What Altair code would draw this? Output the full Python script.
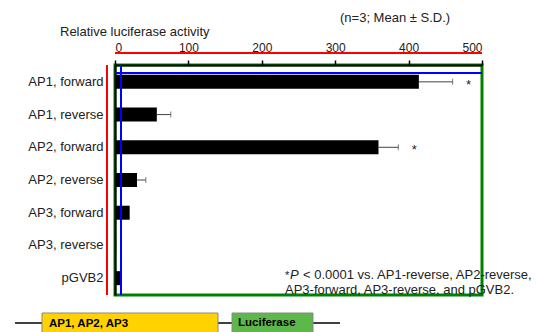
import altair as alt
import pandas as pd

categories = ["AP1, forward", "AP1, reverse", "AP2, forward", "AP2, reverse",
              "AP3, forward", "AP3, reverse", "pGVB2"]
means = [414, 57, 359, 30, 20, 1.5, 8]
sds = [46, 19, 27, 12, 0, 0, 0]
stars = ["*", "", "*", "", "", "", ""]
x_ticks = [0, 100, 200, 300, 400, 500]

df = pd.DataFrame({"cat": categories, "mean": means, "sd": sds, "star": stars})
df["upper"] = df["mean"] + df["sd"]
err = df[df["sd"] > 0]
sig = df[df["star"] != ""]

FONT = "Liberation Sans"
W, H = 367, 230

y_scale = alt.Scale(paddingInner=0.57, paddingOuter=0.3)
y_enc = alt.Y("cat:N", sort=categories, title=None, scale=y_scale)
x_scale = alt.Scale(domain=[0, 500], nice=False)

bars = alt.Chart(df).mark_bar(color="black", size=14).encode(
    x=alt.X("mean:Q", scale=x_scale, title=None,
            axis=alt.Axis(orient="top", values=x_ticks)),
    y=y_enc,
)

rules = alt.Chart(err).mark_rule(color="#444", strokeWidth=1).encode(
    x=alt.X("mean:Q", scale=x_scale, title=None), x2="upper:Q", y=y_enc)
caps = alt.Chart(err).mark_tick(color="#444", thickness=1, size=6, orient="vertical").encode(
    x=alt.X("upper:Q", scale=x_scale, title=None), y=y_enc)
star_text = alt.Chart(sig).mark_text(font=FONT, fontSize=13, dx=16, dy=3, color="#222").encode(
    x=alt.X("upper:Q", scale=x_scale, title=None), y=y_enc, text="star:N")


def label(txt, x, y, size=13, style="normal", weight="normal", color="#222", align="left"):
    return alt.Chart(pd.DataFrame({"t": [txt]})).mark_text(
        font=FONT, fontSize=size, fontStyle=style, fontWeight=weight,
        color=color, align=align, baseline="middle").encode(
        x=alt.value(x), y=alt.value(y), text="t:N")


def rect(x1, x2, y1, y2, fill, stroke="#888"):
    return alt.Chart(pd.DataFrame({"a": [0]})).mark_rect(
        fill=fill, stroke=stroke, strokeWidth=1).encode(
        x=alt.value(x1), x2=alt.value(x2), y=alt.value(y1), y2=alt.value(y2))


def line(x1, x2, y1, y2, w=1.5, color="black"):
    return alt.Chart(pd.DataFrame({"a": [0]})).mark_rule(color=color, strokeWidth=w).encode(
        x=alt.value(x1), x2=alt.value(x2), y=alt.value(y1), y2=alt.value(y2))


ox, oy = 115, 65
annot = [
    # diagnostic lines
    line(-8, -8, 0, H, 2, "red"),
    line(6, 6, 0, H, 2, "blue"),
    line(0, W, -12, -12, 2, "red"),
    line(0, W, 8, 8, 2, "blue"),
    label("Relative luciferase activity", 60 - ox, 32 - oy),
    label("(n=3; Mean \u00b1 S.D.)", 340 - ox, 18 - oy),
    label("*", 285 - ox, 276 - oy, size=11),
    label("P", 290 - ox, 275 - oy, style="italic"),
    label("< 0.0001 vs. AP1-reverse, AP2-reverse,", 303 - ox, 275 - oy),
    label("AP3-forward, AP3-reverse, and pGVB2.", 285 - ox, 290 - oy),
    line(15 - ox, 340 - ox, 323 - oy, 323 - oy),
    rect(42 - ox, 218 - ox, 313 - oy, 345 - oy, "#FFD200"),
    rect(232 - ox, 313 - ox, 313 - oy, 345 - oy, "#5DB84A"),
    label("AP1, AP2, AP3", 49 - ox, 324 - oy, size=11.5, weight="bold", color="black"),
    label("Luciferase", 238 - ox, 323 - oy, size=11.5, weight="bold", color="black"),
]

chart = alt.layer(bars, rules, caps, star_text, *annot).properties(
    width=W, height=H,
    background="white",
    autosize=alt.AutoSizeParams(type="none"),
    padding={"left": ox, "top": oy, "right": 543 - ox - W, "bottom": 332 - oy - H},
).configure_view(
    stroke="green", strokeWidth=3
).configure_axis(
    grid=False, domain=True, domainColor="#000000", domainWidth=2,
    labelFont=FONT, labelColor="#222",
).configure_axisX(
    ticks=True, tickColor="#000000", tickWidth=1.5, tickSize=5,
    labelFontSize=12, labelPadding=6,
).configure_axisY(
    ticks=False, labelFontSize=13, labelPadding=12,
)

chart.save("out.html", embed_options={"renderer": "svg", "actions": False})
